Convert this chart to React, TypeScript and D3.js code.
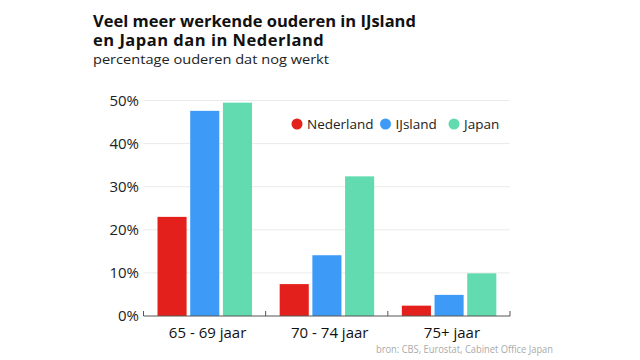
import React from "react";
import * as d3 from "d3";

const categories = ["65 - 69 jaar", "70 - 74 jaar", "75+ jaar"];
const seriesNames = ["Nederland", "IJsland", "Japan"];
const nederland = [23.0, 7.4, 2.4];
const ijsland = [47.6, 14.1, 4.9];
const japan = [49.5, 32.4, 9.9];
const yTicks = [0, 10, 20, 30, 40, 50];
const colors = ["#e3201b", "#3d9bf7", "#63dbb0"];

const W = 640, H = 360;
const FONT = "'Open Sans', Lato, sans-serif";

export default function App() {
  const series = [nederland, ijsland, japan];
  const x0 = d3.scaleBand<string>().domain(categories).range([143.5, 510]).paddingInner(0).paddingOuter(0);
  const x1 = d3.scaleBand<string>().domain(seriesNames).range([14, 108.5]).paddingInner(0.11).paddingOuter(0);
  const y = d3.scaleLinear().domain([0, 50]).range([316, 100.5]);

  return (
    <svg width={W} height={H} style={{ position: "absolute", left: 0, top: 0, background: "#fff" }}>
      <rect width={W} height={H} fill="#fff" />
      <text x={93} y={27} fontFamily={FONT} fontWeight={700} fontSize={16.5} fill="#111">Veel meer werkende ouderen in IJsland</text>
      <text x={93} y={46} fontFamily={FONT} fontWeight={700} fontSize={16.5} fill="#111" letterSpacing={0.5}>en Japan dan in Nederland</text>
      <text x={93} y={64} fontFamily={FONT} fontSize={13.5} fill="#222" textLength={236} lengthAdjust="spacingAndGlyphs">percentage ouderen dat nog werkt</text>

      {yTicks.map((t) => (
        <g key={t}>
          {t > 0 && <line x1={143.5} x2={510} y1={y(t)} y2={y(t)} stroke="#ebebeb" strokeWidth={1} />}
          <text x={139} y={y(t) + 5} textAnchor="end" fontFamily={FONT} fontSize={15} fill="#222">{t}%</text>
        </g>
      ))}

      <rect x={287} y={112} width={226} height={24} fill="#fff" />
      {seriesNames.map((s, i) => {
        const lx = [297, 385.5, 454][i];
        return (
          <g key={s}>
            <circle cx={lx} cy={124} r={5.5} fill={colors[i]} />
            <text x={lx + 10} y={129} fontFamily={FONT} fontSize={13.5} fill="#222">{s}</text>
          </g>
        );
      })}

      {categories.map((c, ci) => (
        <g key={c} transform={`translate(${x0(c)},0)`}>
          {seriesNames.map((s, si) => (
            <rect key={s} x={x1(s)} y={y(series[si][ci])} width={x1.bandwidth()} height={y(0) - y(series[si][ci])} fill={colors[si]} />
          ))}
          <text x={x0.bandwidth() / 2 + 3} y={338} textAnchor="middle" fontFamily={FONT} fontSize={15} fill="#111">{c}</text>
        </g>
      ))}

      <line x1={143.5} x2={510} y1={316} y2={316} stroke="#555" strokeWidth={1} />
      {[...categories.map((c) => x0(c)!), 510].map((tx, i) => (
        <line key={i} x1={tx} x2={tx} y1={311} y2={316} stroke="#555" strokeWidth={1} />
      ))}

      <text x={376} y={353} fontFamily={FONT} fontSize={10} fill="#aaa" textLength={177} lengthAdjust="spacingAndGlyphs">bron: CBS, Eurostat, Cabinet Office Japan</text>
    </svg>
  );
}
